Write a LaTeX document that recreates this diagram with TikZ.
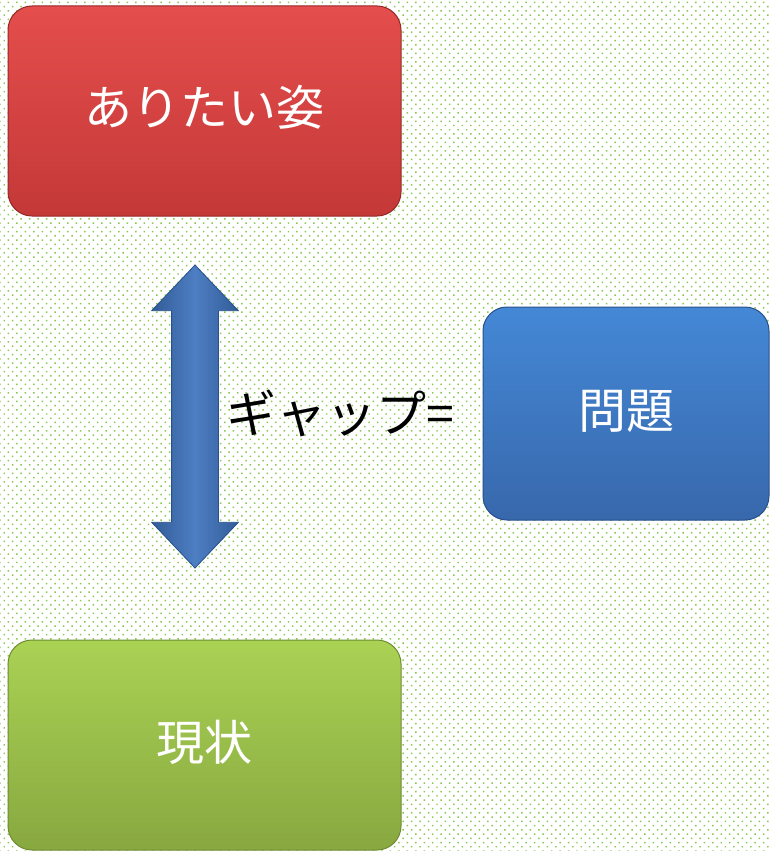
\documentclass[tikz,border=0pt]{standalone}
\usepackage{fontspec}
\newfontfamily\jp{Noto Sans CJK JP}
\usetikzlibrary{shapes.arrows,patterns.meta}
\definecolor{dotgreen}{RGB}{135,200,80}
\definecolor{redtop}{RGB}{228,78,76}
\definecolor{redbot}{RGB}{196,56,56}
\definecolor{redline}{RGB}{150,40,40}
\definecolor{bluetop}{RGB}{68,136,214}
\definecolor{bluebot}{RGB}{56,104,172}
\definecolor{blueline}{RGB}{40,80,140}
\definecolor{greentop}{RGB}{170,210,84}
\definecolor{greenbot}{RGB}{136,168,64}
\definecolor{greenline}{RGB}{110,140,50}
\definecolor{arrowblue}{RGB}{62,115,190}
\tikzset{
  box/.style={rectangle, rounded corners=24pt, line width=1pt,
    text=white, font=\jp\fontsize{48}{54}\selectfont, inner sep=0pt},
  redbox/.style={box, draw=redline, top color=redtop, bottom color=redbot},
  bluebox/.style={box, draw=blueline, top color=bluetop, bottom color=bluebot},
  greenbox/.style={box, draw=greenline, top color=greentop, bottom color=greenbot},
  gaparrow/.style={double arrow, draw=blueline, line width=0.8pt,
    left color=arrowblue!80!black, right color=arrowblue!80!black, middle color=arrowblue!92!white,
    minimum height=303pt, minimum width=86pt, double arrow head extend=20pt,
    double arrow tip angle=87, inner xsep=0pt, inner ysep=23pt},
  gaplabel/.style={text=black, font=\jp\fontsize{50}{56}\selectfont, inner sep=0pt}
}
\begin{document}
\begin{tikzpicture}[x=1pt,y=-1pt]
\useasboundingbox (0,0) rectangle (771,851);
\fill[white] (0,0) rectangle (771,851);
\fill[pattern={Dots[distance=6pt, radius=1.05pt, angle=45]}, pattern color=dotgreen] (0,0) rectangle (771,851);
\node[redbox, minimum width=393pt, minimum height=210pt] (ideal) at (204.5,111) {\raisebox{12pt}{ありたい姿}};
\node[bluebox, minimum width=286pt, minimum height=213pt] (problem) at (626,413.5) {\raisebox{8pt}{問題}};
\node[greenbox, minimum width=393pt, minimum height=210pt] (current) at (204.5,745) {\raisebox{10pt}{現状}};
\node[gaparrow, rotate=90] (gap) at (195,416.5) {};
\node[gaplabel] (gaptext) at (340,413) {ギャップ=};
\end{tikzpicture}
\end{document}
